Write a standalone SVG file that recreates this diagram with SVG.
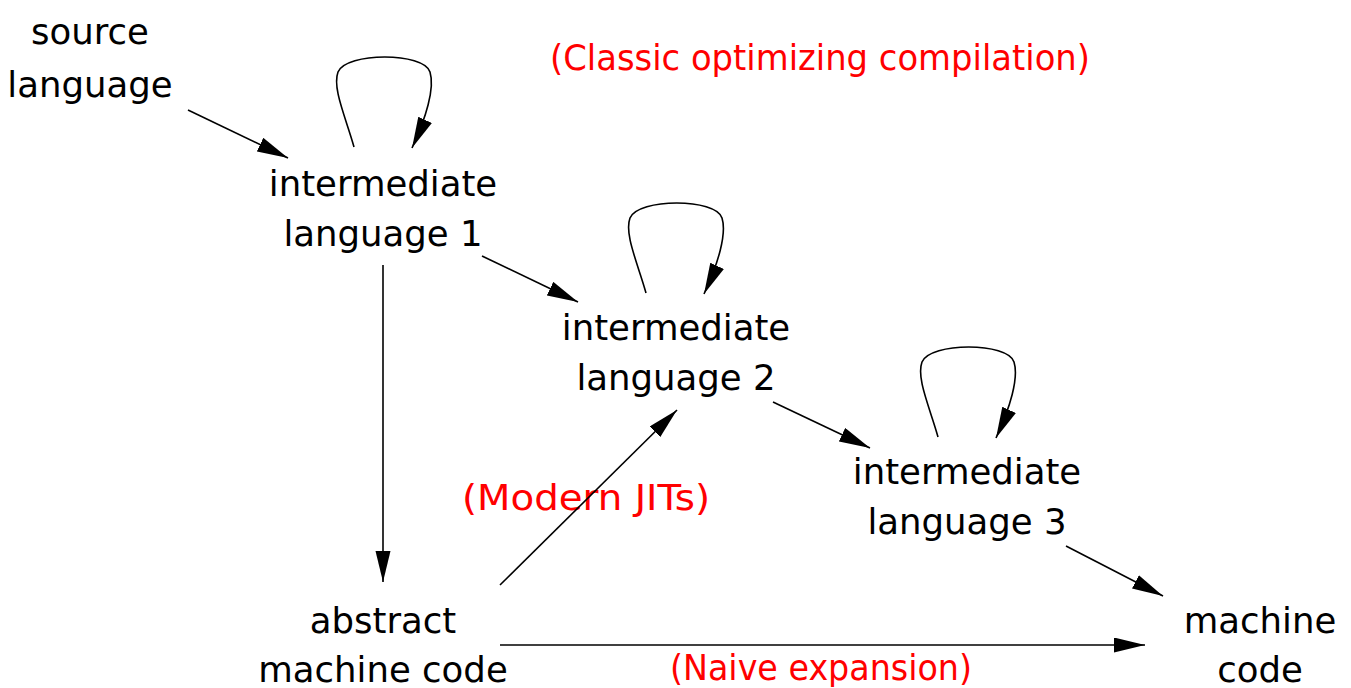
<svg xmlns="http://www.w3.org/2000/svg" width="1351" height="688" viewBox="0 0 1351 688">
<style>
.t{font-family:"DejaVu Sans",sans-serif;font-size:35.5px;fill:#000;text-anchor:middle}
.r{font-family:"DejaVu Sans",sans-serif;font-size:35.5px;fill:#ff0000;text-anchor:middle}
.c{fill:none;stroke:#000;stroke-width:1.6}
</style>
<defs>
<marker id="a" markerUnits="userSpaceOnUse" markerWidth="32" markerHeight="16" refX="31" refY="7.5" orient="auto">
<path d="M0,0 L31,7.5 L0,15 z" fill="#000"/>
</marker>
</defs>
<rect width="1351" height="688" fill="#fff"/>
<g id="source"><text class="t" x="90" y="44">source</text><text class="t" x="90" y="97">language</text></g>
<g id="il1"><text class="t" x="383" y="196">intermediate</text><text class="t" x="383" y="246">language 1</text></g>
<g id="il2"><text class="t" x="676" y="340">intermediate</text><text class="t" x="676" y="390">language 2</text></g>
<g id="il3"><text class="t" x="967" y="484">intermediate</text><text class="t" x="967" y="534">language 3</text></g>
<g id="abstract"><text class="t" x="383" y="633">abstract</text><text class="t" x="383" y="682">machine code</text></g>
<g id="machine"><text class="t" x="1260" y="633">machine</text><text class="t" x="1260" y="682">code</text></g>
<g id="labels">
<text class="r" x="820" y="70" textLength="540" lengthAdjust="spacingAndGlyphs">(Classic optimizing compilation)</text>
<text class="r" x="586" y="510" textLength="248" lengthAdjust="spacingAndGlyphs">(Modern JITs)</text>
<text class="r" x="821" y="680" textLength="302" lengthAdjust="spacingAndGlyphs">(Naive expansion)</text>
</g>
<g id="connectors">
<line class="c" x1="188" y1="110" x2="288" y2="158" marker-end="url(#a)"/>
<path class="c" d="M354,147 C346,118 332,88 338,72 C346,52 424,52 430,72 C435,88 426,118 412,148" marker-end="url(#a)"/>
<line class="c" x1="482" y1="256" x2="578" y2="302" marker-end="url(#a)"/>
<line class="c" x1="383" y1="265" x2="383" y2="582" marker-end="url(#a)"/>
<path class="c" d="M646,293 C638,264 624,234 630,218 C638,198 716,198 722,218 C727,234 718,264 704,294" marker-end="url(#a)"/>
<line class="c" x1="773" y1="402" x2="870" y2="448" marker-end="url(#a)"/>
<path class="c" d="M938,437 C930,408 916,378 922,362 C930,342 1008,342 1014,362 C1019,378 1010,408 996,438" marker-end="url(#a)"/>
<line class="c" x1="1066" y1="546" x2="1163" y2="596" marker-end="url(#a)"/>
<line class="c" x1="500" y1="585" x2="677" y2="410" marker-end="url(#a)"/>
<line class="c" x1="500" y1="645" x2="1145" y2="645" marker-end="url(#a)"/>
</g>
</svg>
